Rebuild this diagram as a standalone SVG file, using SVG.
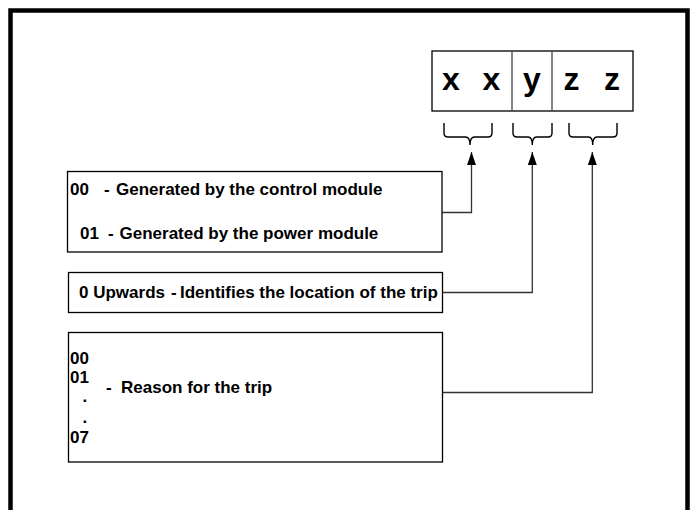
<svg xmlns="http://www.w3.org/2000/svg" width="694" height="510" viewBox="0 0 694 510">
<style>
.box{fill:#fff;stroke:#000;stroke-width:1.3}
.t{font-family:"Liberation Sans",Arial,sans-serif;font-weight:bold;font-size:17px;fill:#000}
.big{font-family:"Liberation Sans",Arial,sans-serif;font-weight:bold;font-size:32px;fill:#000;text-anchor:middle}
.con{fill:none;stroke:#333;stroke-width:1.3}
.brace{fill:none;stroke:#000;stroke-width:1.4}
.div{stroke:#444;stroke-width:1.3}
</style>
<defs>
<marker id="ah" markerUnits="userSpaceOnUse" markerWidth="13" markerHeight="9" viewBox="0 0 13 9" refX="13" refY="4.5" orient="auto">
<path d="M0,0 L13,4.5 L0,9 z" fill="#000"/>
</marker>
</defs>
<rect width="694" height="510" fill="#fff"/>
<path d="M10.5,520 V10.5 H687.5 V520" fill="none" stroke="#000" stroke-width="4.5"/>
<g id="code">
<rect class="box" x="432" y="51" width="201" height="60"/>
<line class="div" x1="512" y1="51" x2="512" y2="111"/>
<line class="div" x1="552" y1="51" x2="552" y2="111"/>
<text class="big" x="451" y="90">x</text>
<text class="big" x="491.5" y="90">x</text>
<text class="big" x="532" y="90">y</text>
<text class="big" x="571.5" y="90">z</text>
<text class="big" x="612" y="90">z</text>
</g>
<g id="braces">
<path class="brace" d="M444,123 V133 Q444,137 448,137 H465.5 Q470,137 470,145 Q470,137 474.5,137 H488 Q492,137 492,133 V123"/>
<path class="brace" d="M513,123 V133 Q513,137 517,137 H528 Q532.3,137 532.3,145 Q532.3,137 536.6,137 H548 Q552,137 552,133 V123"/>
<path class="brace" d="M569,123 V133 Q569,137 573,137 H588.5 Q592.7,137 592.7,145 Q592.7,137 597,137 H613 Q617,137 617,133 V123"/>
</g>
<g id="box1">
<rect class="box" x="67.5" y="171.5" width="374.5" height="80.5"/>
<text class="t" y="195"><tspan x="70">00</tspan><tspan x="104">-</tspan><tspan x="116">Generated by the control module</tspan></text>
<text class="t" y="239"><tspan x="80">01</tspan><tspan x="108">-</tspan><tspan x="119.5">Generated by the power module</tspan></text>
</g>
<g id="box2">
<rect class="box" x="68.5" y="272.5" width="374" height="40"/>
<text class="t" y="298"><tspan x="79">0 Upwards</tspan><tspan x="171">-</tspan><tspan x="180">Identifies the location of the trip</tspan></text>
</g>
<g id="box3">
<rect class="box" x="68.5" y="332.5" width="374" height="129.5"/>
<text class="t" x="70" y="363.5">00</text>
<text class="t" x="70" y="383">01</text>
<text class="t" x="82.6" y="402">.</text>
<text class="t" x="82.6" y="422.5">.</text>
<text class="t" x="70" y="443">07</text>
<text class="t" y="393"><tspan x="106">-</tspan><tspan x="121">Reason for the trip</tspan></text>
</g>
<g id="connectors">
<path class="con" d="M442,212.5 H471.5 V152" marker-end="url(#ah)"/>
<path class="con" d="M442.5,292.5 H532.3 V152" marker-end="url(#ah)"/>
<path class="con" d="M442.5,392.5 H592.3 V152" marker-end="url(#ah)"/>
</g>
</svg>
